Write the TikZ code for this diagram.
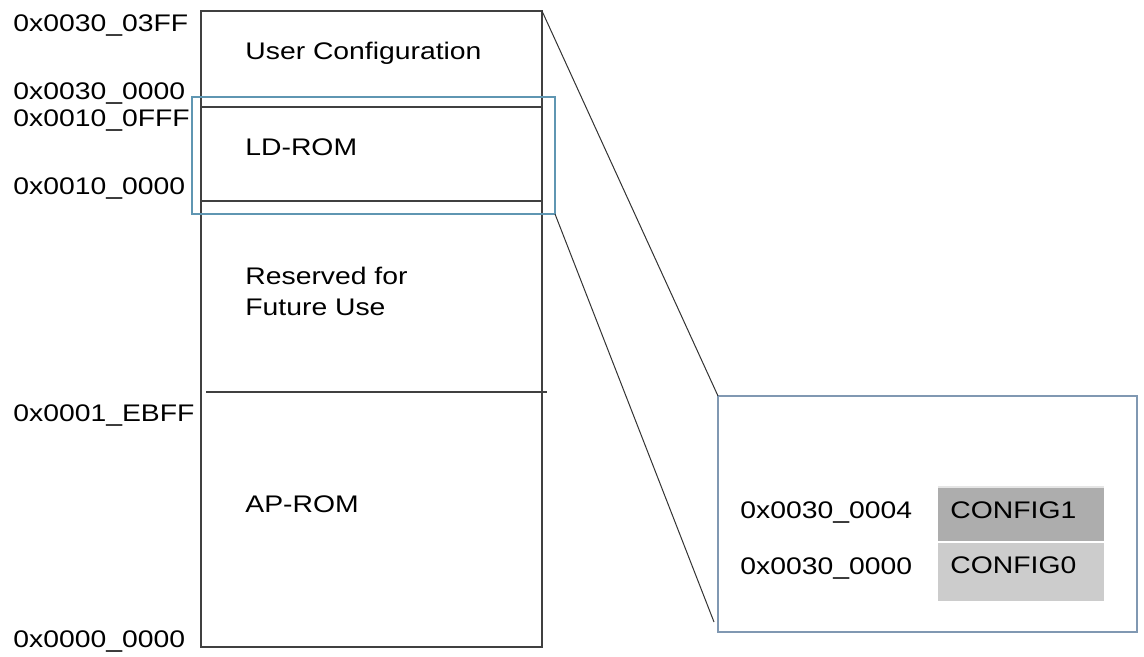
\documentclass[tikz,border=0pt]{standalone}
\usepackage{fontspec}
\setmainfont{Liberation Sans}[FakeStretch=1.18]
\definecolor{selblue}{RGB}{95,150,178}
\definecolor{zoomblue}{RGB}{128,152,178}
\definecolor{cfgdark}{RGB}{173,173,173}
\definecolor{cfglight}{RGB}{204,204,204}

\begin{document}
\begin{tikzpicture}
  [x=0.5pt,y=-0.5pt,
   every node/.style={inner sep=0pt,anchor=base west,font=\fontsize{12}{14}\selectfont},
   memline/.style={draw=black!75,line width=0.6pt}]
  \useasboundingbox (0,0) rectangle (1144,657);

  % memory map
  \coordinate (mtl) at (201,11);
  \coordinate (mbr) at (542,647);
  \draw[memline] (mtl) rectangle (mbr);
  \draw[memline] (201,107) -- (542,107);
  \draw[memline] (201,201) -- (542,201);
  \draw[memline] (206,392) -- (547,392);

  \node (ucfg) at (245,60)  {User Configuration};
  \node (ldrom) at (245,156) {LD-ROM};
  \node (rsv1) at (245,285) {Reserved for};
  \node (rsv2) at (245,315) {Future Use};
  \node (aprom) at (245,512) {AP-ROM};

  % addresses
  \node (a1) at (13,32)  {0x0030\_03FF};
  \node (a2) at (13,100) {0x0030\_0000};
  \node (a3) at (13,127) {0x0010\_0FFF};
  \node (a4) at (13,195) {0x0010\_0000};
  \node (a5) at (13,421) {0x0001\_EBFF};
  \node (a6) at (13,647) {0x0000\_0000};

  % selection and zoom
  \coordinate (seltl) at (192,97);
  \coordinate (selbr) at (555,214);
  \draw[selblue,line width=0.6pt] (seltl) rectangle (selbr);
  \coordinate (zmtl) at (718,396);
  \coordinate (zmbr) at (1137,632);
  \draw[zoomblue,line width=0.6pt] (zmtl) rectangle (zmbr);
  \coordinate (lowend) at (714,622);
  \draw[black!80,line width=0.5pt] (542,11) -- (zmtl);
  \draw[black!80,line width=0.5pt] (selbr) -- (lowend);

  % config words
  \fill[cfgdark] (938,487) rectangle (1104,542);
  \fill[cfglight] (938,542) rectangle (1104,601);
  \draw[white,line width=0.6pt] (938,542) -- (1104,542);
  \draw[black!10,line width=0.6pt] (938,487) -- (1104,487);
  \node (c1addr) at (740,518) {0x0030\_0004};
  \node (c0addr) at (740,574) {0x0030\_0000};
  \node (cfg1) at (950,518) {CONFIG1};
  \node (cfg0) at (950,573) {CONFIG0};
\end{tikzpicture}
\end{document}
